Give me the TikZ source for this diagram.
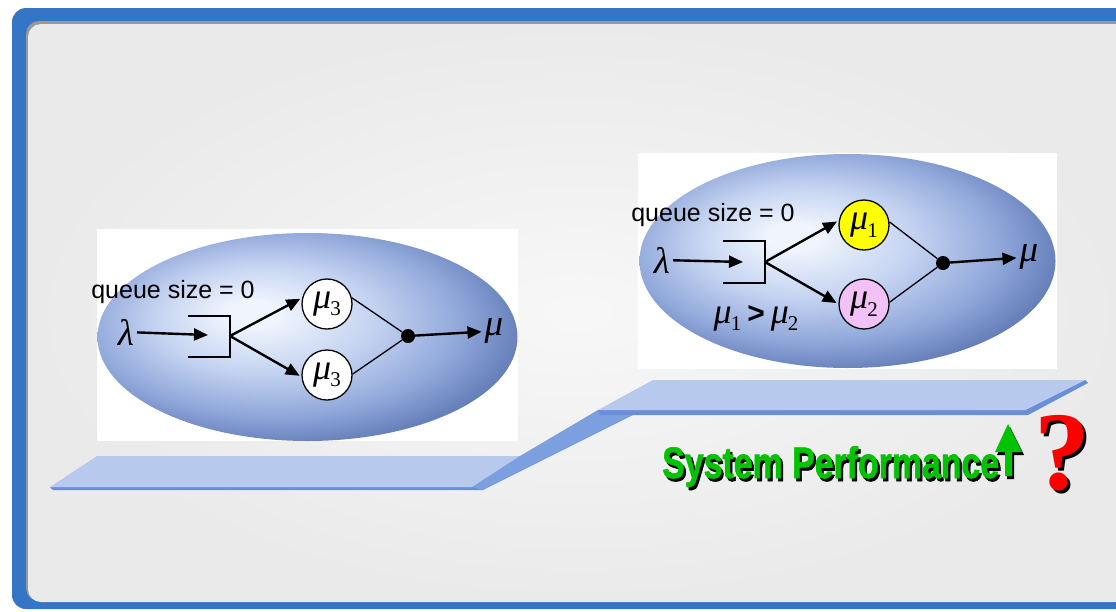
\documentclass[tikz,border=0pt]{standalone}
\usepackage{fontspec}
\setmainfont{Liberation Sans}
\newfontfamily\grk{Liberation Serif}
\newfontfamily\perffont[FakeBold=1.5]{Liberation Sans}
\usetikzlibrary{arrows.meta,positioning}

\definecolor{frameblue}{HTML}{3575C5}
\definecolor{panelgray}{HTML}{EAEAEA}
\definecolor{platlight}{HTML}{B8C9EE}
\definecolor{platramp}{HTML}{7C9FE0}
\definecolor{platstrip}{HTML}{6A8FDA}
\definecolor{ellA}{HTML}{F0F5FD}
\definecolor{ellB}{HTML}{C4D3F1}
\definecolor{ellC}{HTML}{91A8DA}
\definecolor{ellD}{HTML}{5670AE}
\definecolor{srvyellow}{HTML}{FFFF00}
\definecolor{srvpink}{HTML}{F2C2F7}
\definecolor{perfgreen}{HTML}{00C400}

% path box is fitted to the middle 50bp square: edge at 25bp
\pgfdeclareradialshading{ellshade}{\pgfpoint{-7bp}{6bp}}{%
  color(0bp)=(ellA); color(3bp)=(ellA); color(13bp)=(ellB);
  color(22bp)=(ellC); color(31bp)=(ellD); color(50bp)=(ellD)}

\newcommand{\qsfont}{\fontsize{25}{30}\selectfont}
\newcommand{\gmu}{{\grk\itshape μ}}
\newcommand{\musub}[1]{\gmu\kern-1pt\raisebox{-0.4ex}{\fontsize{21}{21}\selectfont\grk #1}}

\begin{document}
\begin{tikzpicture}[
  x=1pt, y=-1pt,
  qlabel/.style={inner sep=0pt, font=\qsfont},
  sym/.style={inner sep=3pt, font=\fontsize{37}{37}\selectfont\grk\itshape},
  srv/.style={circle, draw, line width=1.3pt, fill=#1, minimum size=50pt, inner sep=0pt, font=\fontsize{36}{36}\selectfont},
  junc/.style={circle, fill=black, minimum size=14pt, inner sep=0pt},
  arrow/.style={-{Triangle[length=14pt,width=12pt]}, line width=2.4pt},
  thin/.style={line width=1.3pt},
  brk/.style={line width=1.6pt}
]
\useasboundingbox (0,0) rectangle (1116,611);

% frame and panel
\begin{scope}
\clip (0,0) rectangle (1116,611);
\fill[frameblue, rounded corners=14pt] (12,8) rectangle (1140,609);
\fill[black!40, rounded corners=13pt] (26,21) rectangle (1128,601);
\shade[inner color=black!3, outer color=panelgray, rounded corners=13pt] (28,24) rectangle (1128,602);
\end{scope}

% platforms
\fill[platstrip] (50,487) -- (483,487) -- (484,490) -- (53,490) -- cycle;
\fill[platlight] (97,456) -- (520,456) -- (472,487) -- (50,487) -- cycle;
\fill[platramp] (472,487) -- (520,456) -- (598,410) -- (637,413) -- (483,490) -- cycle;
\fill[platstrip] (598,410) -- (1025,410) -- (1085,380) -- (1088,383) -- (1028,415) -- (600,415) -- cycle;
\fill[platlight] (653,380) -- (1085,380) -- (1025,410) -- (598,410) -- cycle;

% left picture
\fill[white] (97,229) rectangle (518,441);
\shade[shading=ellshade] (307.5,337) ellipse [x radius=210pt, y radius=104pt];
\node[qlabel] (qsL) at (173,292) {queue size = 0};
\node[sym] (lamL) at (126,332) {λ};
\coordinate (qinL) at (208,335);
\coordinate (forkL) at (230,336);
\draw[brk] (188,316) -| (230,357) -- (188,357);
\node[srv=white] (mu3a) at (327,304) {\musub{3}};
\node[srv=white] (mu3b) at (327,375) {\musub{3}};
\node[junc] (dotL) at (408,336) {};
\node[sym] (outL) at (494,331) {μ};
\draw[arrow] (lamL) -- (qinL);
\draw[arrow, shorten >=2pt] (forkL) -- (mu3a.166);
\draw[arrow, shorten >=2pt] (forkL) -- (mu3b.184);
\draw[thin] (mu3a.14) -- (dotL);
\draw[thin] (mu3b.2) -- (dotL);
\draw[arrow] (dotL) -- (outL);

% right picture
\fill[white] (638,153) rectangle (1057,369);
\shade[shading=ellshade] (847.5,261) ellipse [x radius=208pt, y radius=107pt];
\node[qlabel] (qsR) at (713,215) {queue size = 0};
\node[sym] (lamR) at (662,260) {λ};
\coordinate (qinR) at (743,262);
\coordinate (forkR) at (765,262);
\draw[brk] (723,241) -| (765,283) -- (723,283);
\node[srv=srvyellow] (mu1) at (864,225) {\musub{1}};
\node[srv=srvpink] (mu2) at (864,304) {\musub{2}};
\node[junc] (dotR) at (943,263) {};
\node[sym] (outR) at (1029,257) {μ};
\node[inner sep=0pt, font=\fontsize{36}{36}\selectfont] (cmp) at (756,318)
  {\musub{1}\,{\fontsize{30}{30}\selectfont\bfseries >}\,\musub{2}};
\draw[arrow] (lamR) -- (qinR);
\draw[arrow, shorten >=2pt] (forkR) -- (mu1.170);
\draw[arrow, shorten >=2pt] (forkR) -- (mu2.180);
\draw[thin] (mu1.7) -- (dotR);
\draw[thin] (mu2.4) -- (dotR);
\draw[arrow] (dotR) -- (outR);

% system performance
\node[anchor=base west, inner sep=0pt, text=perfgreen, font=\fontsize{44}{44}\perffont\bfseries] (perf) at (662,478)
  {\scalebox{0.77}[1]{\rlap{\hspace{3pt}\raisebox{-3pt}{\color{black}System Performance}}System Performance}};
\fill[black] (1010,427) -- (1024,455) -- (1014,455) -- (1014,479) -- (1007,479) -- (1007,455) -- (997,455) -- cycle;
\fill[perfgreen] (1008,424) -- (1022,452) -- (1012,452) -- (1012,476) -- (1005,476) -- (1005,452) -- (995,452) -- cycle;
\node[text=red, inner sep=0pt, font=\fontsize{112}{112}\grk\bfseries] (qmark) at (1062,455)
  {\rlap{\hspace{3pt}\raisebox{-3pt}{\color{black}?}}?};
\end{tikzpicture}
\end{document}
